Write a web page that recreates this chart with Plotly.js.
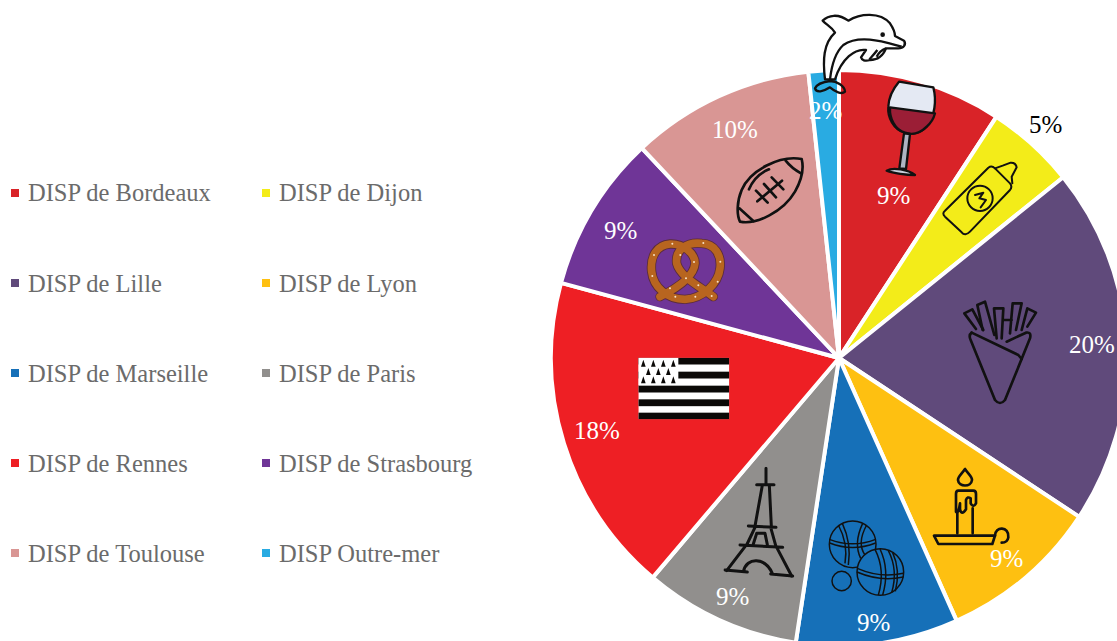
<!DOCTYPE html>
<html lang="fr">
<head>
<meta charset="utf-8">
<title>DISP</title>
<script src="https://cdn.plot.ly/plotly-3.0.1.min.js"></script>
<style>
  html, body { margin: 0; padding: 0; overflow: hidden; background: #fff; }
</style>
</head>
<body>
<div id="chart"></div>
<script>
// Values, in percent of the whole
const labels = ['DISP de Bordeaux', 'DISP de Dijon', 'DISP de Lille', 'DISP de Lyon', 'DISP de Marseille',
  'DISP de Paris', 'DISP de Rennes', 'DISP de Strasbourg', 'DISP de Toulouse', 'DISP Outre-mer'];
const values = [9.2, 5.0, 20.1, 9.0, 9.1, 8.8, 18.0, 8.8, 10.3, 1.7];
const colors = ['#d92328', '#f3ec19', '#604a7b', '#fec011', '#1670b8', '#918f8d', '#ee1f24', '#6f3597', '#d99694', '#29abe2'];
const labelColors = ['#fff', '#000', '#fff', '#fff', '#fff', '#fff', '#fff', '#fff', '#fff', '#fff'];
const labelX = [893, 1045, 1092, 1006, 873, 732, 597, 620, 735, 825];
const labelY = [195, 125, 344, 558, 622, 596, 430, 230, 130, 110];

// The pie runs past the window on the right and bottom, so the figure is a bit bigger than the page
const W = 1130;
const H = 650;
const FONT = '"Liberation Serif", serif';
const px = (x) => x / W;
const py = (y) => 1 - y / H;

// Icons are drawn by hand in the 3x units of the crops they were measured from
const INK = 'fill="none" stroke="#111" stroke-linecap="round" stroke-linejoin="round"';

const dolphin = `<g stroke="#111" stroke-width="7" stroke-linejoin="round">
  <path fill="#fff" d="M128 62C145 45 175 40 205 62C240 40 300 35 330 70C340 85 345 100 345 108L372 122C380 135 370 145 355 145L318 145C310 165 295 180 270 180C255 185 245 180 243 172L258 150C225 145 185 175 165 238L135 238C128 180 130 130 165 98C155 80 140 75 128 62Z"/>
  <path fill="none" d="M365 140C320 128 240 100 190 135C168 155 155 195 150 238"/>
  <path fill="none" d="M318 145C305 150 295 160 290 170M292 150C285 160 275 170 268 178"/>
  <path fill="none" d="M150 243C135 245 112 250 105 265C108 280 130 275 150 262C165 275 185 285 195 275C195 258 170 243 150 243Z"/>
  <circle cx="308" cy="104" r="7" fill="#111" stroke="none"/></g>`;

const wine = `<g stroke="#111" stroke-width="7" stroke-linejoin="round">
  <path fill="#e4e9f3" d="M357 245L460 262C470 300 465 350 440 380C420 400 395 405 375 398C340 390 322 350 325 320C326 295 340 265 357 245Z"/>
  <path fill="#9b1e36" d="M330 322L465 340C460 360 452 370 440 380C420 400 395 405 375 398C345 390 328 355 330 322Z"/>
  <path fill="#aeb4c2" d="M372 400L358 505L378 507L390 402Z"/>
  <path fill="#c8d0dc" d="M320 512C340 500 385 510 405 525C380 525 340 520 320 512Z"/></g>`;

const mustard = `<g ${INK} stroke-width="6">
  <path d="M495 632L625 503Q635 495 645 505L690 550Q698 560 690 570L570 695Q555 710 545 697L495 650Q485 640 495 632Z"/>
  <path d="M645 505L668 497L692 488Q707 487 710 502L695 530L697 550"/>
  <circle cx="600" cy="595" r="38"/>
  <path d="M585 585L610 578L598 595L618 600L602 622"/></g>`;

const football = `<g ${INK} stroke-width="8">
  <path d="M545 57C480 45 390 90 365 150C350 185 350 225 360 245C410 255 490 215 525 155C545 120 552 85 545 57Z"/>
  <path d="M497 62Q515 85 543 100M358 205Q380 225 400 243M387 148Q405 105 447 88"/>
  <path d="M412 184L486 122M408 152L443 188M432 132L468 172M455 112L490 148"/></g>`;

const pretzelLine = 'M280 470C240 440 180 410 170 370C165 325 205 305 245 310C285 312 305 345 300 385C295 430 250 475 195 478C140 478 100 440 95 395C90 350 110 315 150 312C190 310 225 340 225 370C222 410 170 445 120 470';
const saltX = [157, 250, 102, 181, 222, 301, 97, 198, 293, 235, 150, 166, 226, 275];
const saltY = [311, 309, 345, 345, 366, 365, 408, 415, 425, 436, 445, 470, 470, 468];
const pretzel = `<path d="${pretzelLine}" fill="none" stroke="#5b2c3a" stroke-width="28" stroke-linecap="round"/>
  <path d="${pretzelLine}" fill="none" stroke="#b8651f" stroke-width="23" stroke-linecap="round"/>
  ${saltX.map((x, i) => `<circle cx="${x}" cy="${saltY[i]}" r="3" fill="#f6e2c8"/>`).join('')}`;

const stripesY = [653, 695, 737, 778, 818];
const ermineX = [70, 100, 130, 160, 85, 115, 145, 70, 100, 130, 160];
const ermineY = [670, 670, 670, 670, 695, 695, 695, 720, 720, 720, 720];
const flag = `<rect x="55" y="653" width="273" height="185" fill="#fff"/>
  ${stripesY.map((y) => `<rect x="55" y="${y}" width="273" height="20.5" fill="#0b0907"/>`).join('')}
  <rect x="55" y="653" width="120" height="82" fill="#fff"/>
  ${ermineX.map((x, i) => `<path d="M${x} ${ermineY[i] - 11}L${x + 7} ${ermineY[i] + 10}H${x - 7}Z" fill="#0b0907"/>`).join('')}`;

const eiffel = `<g ${INK} stroke-width="9">
  <path d="M168 55V104M140 104H192M157 106L135 228M178 106L184 228"/>
  <path d="M115 228L198 232M135 232L110 285M182 232L198 290"/>
  <path d="M130 282L140 250H165L172 284"/>
  <path d="M90 285L218 292M105 290L50 362M200 292L245 378"/>
  <path d="M100 365C110 320 165 320 188 372M45 360L112 366M182 372L248 378"/></g>`;

const boules = `<g stroke="#111" stroke-width="4.5" fill="none">
  <circle cx="428" cy="283" r="70"/>
  <path d="M358 268Q428 295 497 268M359 279Q428 306 497 279"/>
  <path d="M385 225Q415 280 405 340M397 220Q425 280 415 345M470 225Q440 280 465 315M458 220Q430 280 452 325"/>
  <circle cx="511" cy="366" r="70" fill="#1670b8"/>
  <path d="M442 355Q510 385 580 370M441 366Q510 396 580 381"/>
  <path d="M495 298Q527 360 505 435M510 297Q540 360 518 435M535 302Q565 360 545 428M548 308Q572 360 556 424"/>
  <circle cx="395" cy="393" r="29"/></g>`;

const candle = `<g ${INK} stroke-width="8">
  <path d="M672 257H855L847 282H685Z"/>
  <path d="M855 257C855 228 898 228 895 262C893 275 885 278 875 278"/>
  <path d="M742 250V190M788 250V175"/>
  <path d="M745 122H790Q798 122 798 132V160Q790 175 782 160V145Q772 138 768 150V178Q755 198 750 178V160Q745 195 738 185V132Q738 122 745 122Z"/>
  <path d="M765 57C755 72 743 80 744 90C746 112 784 112 786 90C787 80 775 72 765 57Z"/></g>`;

const fries = `<g ${INK} stroke-width="8">
  <path d="M95 158Q85 165 92 180L165 360Q180 378 195 360L270 175Q275 155 258 158L200 185"/>
  <path d="M95 158L235 225L245 237"/>
  <path d="M108 147L73 100L97 88L130 150"/>
  <path d="M128 150L112 75L135 65L163 165"/>
  <path d="M170 175L162 85L190 85L185 175"/>
  <path d="M190 120H215M210 160L218 70L245 70L228 150"/>
  <path d="M245 150L262 85L288 98L262 140"/></g>`;

// [art, crop left, crop top, left, top, width, height] with the last four in crop units
const icons = [
  [dolphin, 780, 0, 90, 30, 300, 260],
  [wine, 780, 0, 310, 235, 170, 300],
  [mustard, 780, 0, 480, 480, 240, 235],
  [football, 620, 140, 345, 45, 215, 215],
  [pretzel, 620, 140, 75, 290, 245, 205],
  [flag, 620, 140, 55, 653, 273, 185],
  [eiffel, 710, 450, 40, 50, 215, 335],
  [boules, 710, 450, 350, 205, 240, 240],
  [candle, 710, 450, 665, 50, 240, 240],
  [fries, 940, 280, 65, 60, 230, 320]
];

const images = icons.map(([art, ox, oy, l, t, w, h]) => ({
  source: 'data:image/svg+xml,' + encodeURIComponent(
    `<svg xmlns="http://www.w3.org/2000/svg" viewBox="${l} ${t} ${w} ${h}" width="${w}" height="${h}">${art}</svg>`),
  xref: 'paper', yref: 'paper',
  x: px(ox + l / 3), y: py(oy + t / 3),
  sizex: w / 3 / W, sizey: h / 3 / H,
  xanchor: 'left', yanchor: 'top',
  sizing: 'stretch', layer: 'above'
}));

// Slice labels sit where the reference has them
const annotations = values.map((v, i) => ({
  text: `${Math.round(v)}%`,
  xref: 'paper', yref: 'paper',
  x: px(labelX[i]), y: py(labelY[i]),
  xanchor: 'center', yanchor: 'middle',
  showarrow: false,
  font: { family: FONT, size: 25, color: labelColors[i] }
}));

// Legend in two columns, five rows, spaced wider than the built-in one allows
const shapes = [];
labels.forEach((label, i) => {
  const col = i % 2;
  const row = Math.floor(i / 2);
  const rowY = 193 + row * 90;
  const colX = col === 0 ? 11 : 262;
  shapes.push({
    type: 'rect', xref: 'paper', yref: 'paper',
    x0: px(colX), x1: px(colX + 8), y0: py(rowY - 4), y1: py(rowY + 4),
    fillcolor: colors[i], line: { width: 0 }
  });
  annotations.push({
    text: label,
    xref: 'paper', yref: 'paper',
    x: px(colX + 15), y: py(rowY),
    xanchor: 'left', yanchor: 'middle',
    showarrow: false,
    font: { family: FONT, size: 24.5, color: '#6b6b6b' }
  });
});

Plotly.newPlot('chart', [{
  type: 'pie',
  labels: labels,
  values: values,
  sort: false,
  direction: 'clockwise',
  rotation: 0,
  textinfo: 'none',
  hoverinfo: 'label+percent',
  marker: { colors: colors, line: { color: '#fff', width: 4 } },
  domain: { x: [px(551), px(1127)], y: [py(646), py(70)] },
  showlegend: false
}], {
  width: W,
  height: H,
  margin: { l: 0, r: 0, t: 0, b: 0, pad: 0 },
  paper_bgcolor: '#fff',
  images: images,
  annotations: annotations,
  shapes: shapes
}, { displayModeBar: false });
</script>
</body>
</html>
